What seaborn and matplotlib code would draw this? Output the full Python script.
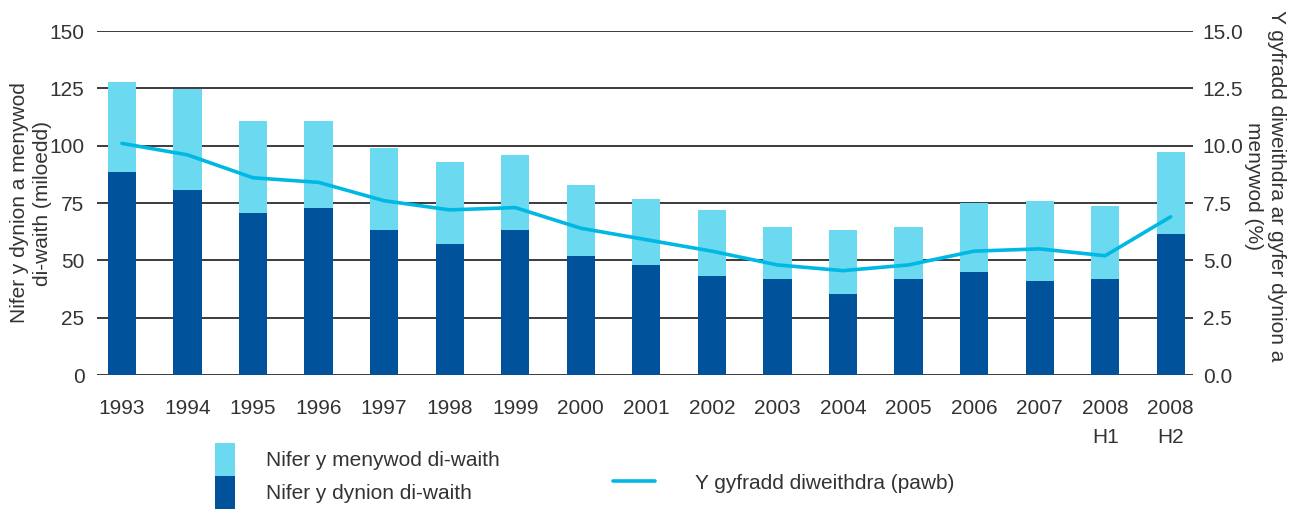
import numpy as np
import pandas as pd
import matplotlib
matplotlib.use("Agg")
import matplotlib.pyplot as plt
import seaborn as sns
from matplotlib.patches import Patch
from matplotlib.lines import Line2D

categories = ["1993", "1994", "1995", "1996", "1997", "1998", "1999", "2000", "2001",
              "2002", "2003", "2004", "2005", "2006", "2007", "2008\nH1", "2008\nH2"]
total_unemployed = [127.8, 124.6, 110.8, 110.8, 99.0, 92.9, 95.9, 82.9, 76.8,
                    72.0, 64.5, 63.2, 64.5, 74.9, 75.9, 73.7, 97.3]
men_unemployed = [88.5, 80.7, 70.6, 72.8, 63.2, 57.1, 63.2, 51.9, 48.0,
                  43.2, 41.9, 35.3, 41.9, 44.9, 41.0, 41.9, 61.5]
rate_all = [10.1, 9.6, 8.6, 8.4, 7.6, 7.2, 7.3, 6.4, 5.9,
            5.4, 4.8, 4.55, 4.8, 5.4, 5.5, 5.2, 6.9]

LIGHT = "#6BD9EF"
DARK = "#00529B"
LINE = "#00B8E4"
TXT = "#333333"
FS = 15

sns.set_theme(style="white")
plt.rcParams["font.family"] = ["Liberation Sans", "DejaVu Sans"]
plt.rcParams["font.size"] = FS

df = pd.DataFrame({"cat": categories, "total": total_unemployed,
                   "men": men_unemployed, "rate": rate_all,
                   "pos": np.arange(len(categories))})

fig = plt.figure(figsize=(12.99, 5.11), dpi=100)
ax = fig.add_axes([97/1299, 1-375/511, (1193-97)/1299, (375-31)/511])

sns.barplot(data=df, x="cat", y="total", color=LIGHT, width=0.43, ax=ax,
            saturation=1, zorder=3, linewidth=0, edgecolor="none")
sns.barplot(data=df, x="cat", y="men", color=DARK, width=0.43, ax=ax,
            saturation=1, zorder=3, linewidth=0, edgecolor="none")

ax.set_ylim(0, 150)
ax.set_yticks([0, 25, 50, 75, 100, 125, 150])
ax.set_xlim(-0.38, 16.34)
ax.yaxis.grid(True, color="#1a1a1a", linewidth=1.2, zorder=0)
ax.set_axisbelow(True)
for s in ax.spines.values():
    s.set_visible(False)
ax.tick_params(axis="y", length=0, pad=9, labelsize=FS, colors=TXT)
ax.tick_params(axis="x", length=0, pad=17, labelsize=FS, colors=TXT)
for lab in ax.get_xticklabels():
    lab.set_linespacing(1.7)
    lab.set_verticalalignment("top")
ax.set_xlabel("")
ax.set_ylabel("Nifer y dynion a menywod\ndi-waith (miloedd)", fontsize=FS,
              color=TXT, linespacing=1.25)
ax.yaxis.set_label_coords(-0.041, 0.5)

ax2 = ax.twinx()
sns.lineplot(data=df, x="pos", y="rate", color=LINE, linewidth=2.6, ax=ax2,
             zorder=5)
ax2.set_ylim(0, 15)
ax2.set_yticks([0, 2.5, 5, 7.5, 10, 12.5, 15])
ax2.set_yticklabels(["0.0", "2.5", "5.0", "7.5", "10.0", "12.5", "15.0"])
ax2.set_xlim(-0.38, 16.34)
for s in ax2.spines.values():
    s.set_visible(False)
ax2.tick_params(axis="y", length=0, pad=7, labelsize=FS, labelcolor=TXT)
ax2.set_xlabel("")
ax2.set_ylabel("Y gyfradd diweithdra ar gyfer dynion a\nmenywod (%)", fontsize=FS,
               color=TXT, rotation=270, linespacing=1.25)
ax2.yaxis.set_label_coords(1.085, 0.55)

h_bars = [Patch(facecolor=LIGHT, edgecolor="none", label="Nifer y menywod di-waith"),
          Patch(facecolor=DARK, edgecolor="none", label="Nifer y dynion di-waith")]
leg1 = fig.legend(handles=h_bars, loc="upper left",
                  bbox_to_anchor=(200/1299, 1-428/511), frameon=False,
                  handlelength=1.0, handleheight=2.06, labelspacing=0.0,
                  handletextpad=1.45, borderpad=0.2, fontsize=FS)
for t in leg1.get_texts():
    t.set_color(TXT)
h_line = [Line2D([0], [0], color=LINE, linewidth=2.6, label="Y gyfradd diweithdra (pawb)")]
leg2 = fig.legend(handles=h_line, loc="center left",
                  bbox_to_anchor=(594/1299, 1-483/511), frameon=False,
                  handlelength=2.05, handletextpad=1.9, fontsize=FS)
for t in leg2.get_texts():
    t.set_color(TXT)

fig.savefig("out.png", dpi=100)
